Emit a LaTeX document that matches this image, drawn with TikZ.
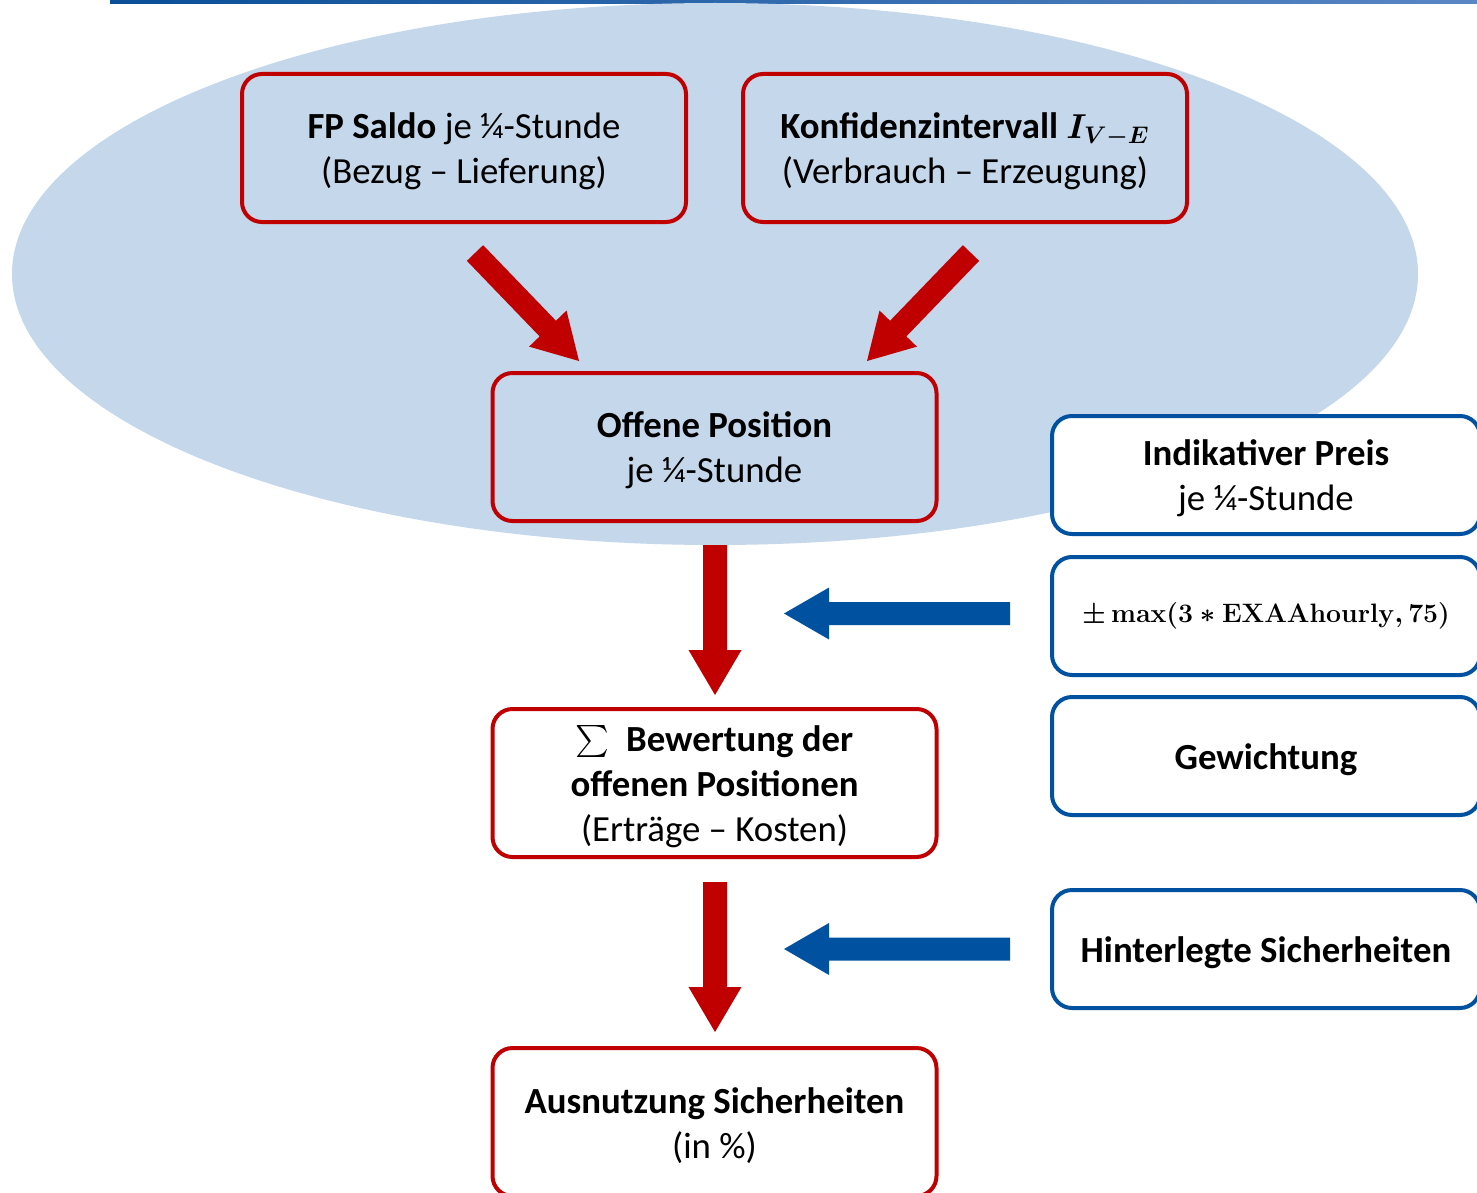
\documentclass[tikz,border=0pt]{standalone}
\usepackage[no-math]{fontspec}
\setmainfont{Carlito}
\usetikzlibrary{calc}
\definecolor{boxred}{HTML}{C00000}
\definecolor{boxblue}{HTML}{0052A0}
\definecolor{ellfill}{HTML}{C5D7EA}
\definecolor{linedark}{HTML}{0A4F98}
\definecolor{linelight}{HTML}{5A86C4}
\newcommand{\mainsize}{\fontsize{18.4}{22.5}\selectfont}
\newcommand{\topstrut}{\rule{0pt}{16.4pt}}
\newcommand{\blockarrow}[6]{%
  \coordinate (hb) at ($(#3)!#6!(#2)$);
  \fill[#1] ($(#2)!#4!90:(#3)$) -- ($(hb)!#4!-90:(#2)$) -- ($(hb)!#5!-90:(#2)$) -- (#3)
    -- ($(hb)!#5!90:(#2)$) -- ($(hb)!#4!90:(#2)$) -- ($(#2)!#4!-90:(#3)$) -- cycle;}
\tikzset{
  redbox/.style={draw=boxred, line width=2pt, rounded corners=10pt, minimum width=222pt,
    minimum height=74pt, align=center, inner sep=2pt, font=\mainsize},
  bluebox/.style={draw=boxblue, fill=white, line width=2pt, rounded corners=10pt, minimum width=214pt,
    minimum height=59pt, align=center, inner sep=2pt, font=\mainsize},
}
\begin{document}
\begin{tikzpicture}[x=0.5pt,y=-0.5pt]
\useasboundingbox (0,0) rectangle (1477,1193);
\clip (0,0) rectangle (1477,1193);
\fill[white] (0,0) rectangle (1477,1193);
% top rule
\shade[left color=linedark, right color=linelight] (110,0) rectangle (1477,3.5);
% background ellipse
\fill[ellfill] (715,274) ellipse [x radius=351.5pt, y radius=135.5pt];

% nodes
\node[redbox] (fp) at (464,148) {\topstrut\textbf{FP Saldo} je ¼-Stunde\\(Bezug – Lieferung)};
\node[redbox] (konf) at (965,148) {\topstrut\textbf{Konfidenzintervall} {\boldmath$I_{V-E}$}\\(Verbrauch – Erzeugung)};
\node[redbox] (offen) at (714.5,447) {\topstrut\textbf{Offene Position}\\je ¼-Stunde};
\node[redbox, fill=white] (bew) at (714.5,783) {\topstrut\raisebox{-2.2pt}{\scalebox{1.6}{$\sum$}}\ \ \textbf{Bewertung der}\\\textbf{offenen Positionen}\\(Erträge – Kosten)};
\node[redbox, fill=white] (aus) at (714.5,1122) {\topstrut\textbf{Ausnutzung Sicherheiten}\\(in \%)};

\node[bluebox] (ind) at (1266,475) {\topstrut\textbf{Indikativer Preis}\\je ¼-Stunde};
\node[bluebox] (maxf) at (1266,616) {\fontsize{12}{14}\selectfont\scalebox{1.11}{\boldmath$\pm\max(3\ast\mathrm{EXAAhourly},75)$}};
\node[bluebox] (gew) at (1266,756) {\topstrut\textbf{Gewichtung}};
\node[bluebox] (hint) at (1266,949) {\topstrut\textbf{Hinterlegte Sicherheiten}};

% arrow anchors
\coordinate (a1s) at (475,253);  \coordinate (a1e) at (579,361);
\coordinate (a2s) at (971,253);  \coordinate (a2e) at (867,361);
\coordinate (a3s) at (715,545);  \coordinate (a3e) at (715,695);
\coordinate (a4s) at (715,882);  \coordinate (a4e) at (715,1032);
\coordinate (b1s) at (1010,613.5); \coordinate (b1e) at (784,613.5);
\coordinate (b2s) at (1010,949);   \coordinate (b2e) at (784,949);

\blockarrow{boxred}{a1s}{a1e}{5.65pt}{13pt}{22.5pt}
\blockarrow{boxred}{a2s}{a2e}{5.65pt}{13pt}{22.5pt}
\blockarrow{boxred}{a3s}{a3e}{6pt}{13.25pt}{22.5pt}
\blockarrow{boxred}{a4s}{a4e}{6pt}{13.25pt}{22.5pt}
\blockarrow{boxblue}{b1s}{b1e}{5.75pt}{13pt}{22.5pt}
\blockarrow{boxblue}{b2s}{b2e}{5.75pt}{13pt}{22.5pt}
\end{tikzpicture}
\end{document}
